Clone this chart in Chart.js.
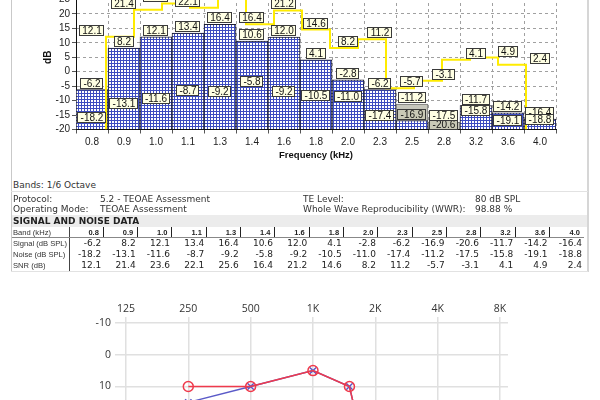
<!DOCTYPE html>
<html>
<head>
<meta charset="utf-8">
<script src="https://cdn.jsdelivr.net/npm/chart.js@4.4.1/dist/chart.umd.min.js"></script>
<style>
html, body { margin: 0; padding: 0; width: 600px; height: 400px; overflow: hidden; background: #fff; }
canvas { position: absolute; left: 0; }
#oae { top: -39px; }
#aud { top: 290px; }
.vl { position: absolute; top: 0; height: 272px; width: 1px; background: #c9c9c9; }
.hl { position: absolute; left: 11px; width: 577px; height: 1px; background: #e2e2e2; }
.txt { position: absolute; font: 9px "DejaVu Sans", Verdana, sans-serif; color: #333; line-height: 12px; white-space: nowrap; }
#band { position: absolute; left: 12px; top: 215px; width: 575px; height: 12px; background: #ececec; }
#snTable { position: absolute; left: 12px; top: 227px; width: 572px; border-collapse: collapse; table-layout: fixed; }
#snTable td { padding: 0 2px 0 0; text-align: right; white-space: nowrap; overflow: hidden;
  font: 9px "DejaVu Sans", Verdana, sans-serif; color: #222; height: 11px; line-height: 11px; }
#snTable td.lab { text-align: left; font: 7.6px "Liberation Sans", Arial, sans-serif; color: #333;
  border-right: 1px solid #444; padding-left: 1px; }
#snTable tr.hd td { height: 10px; line-height: 10px; font: bold 7.5px "Liberation Sans", Arial, sans-serif;
  border-bottom: 1px solid #888; padding-right: 4px; }
#snTable tr.hd td.lab { font: 7.6px "Liberation Sans", Arial, sans-serif; padding-right: 0; }
#snTable tr.hd td.sep { border-right: 1px solid #222; }
</style>
</head>
<body>

<canvas id="oae" width="600" height="210"></canvas>

<div class="vl" style="left:11px"></div>
<div class="vl" style="left:587px;width:2px;background:#d6d6d6"></div>

<div class="txt" style="left:13px;top:179px">Bands: 1/6 Octave</div>
<div class="hl" style="top:191px"></div>
<div class="txt" style="left:13px;top:193px">Protocol:</div>
<div class="txt" style="left:100px;top:193px">5.2 - TEOAE Assessment</div>
<div class="txt" style="left:13px;top:203px">Operating Mode:</div>
<div class="txt" style="left:100px;top:203px">TEOAE Assessment</div>
<div class="txt" style="left:303px;top:193px">TE Level:</div>
<div class="txt" style="left:475px;top:193px">80 dB SPL</div>
<div class="txt" style="left:303px;top:203px">Whole Wave Reproducibility (WWR):</div>
<div class="txt" style="left:475px;top:203px">98.88 %</div>
<div id="band"></div>
<div class="txt" style="left:13px;top:215px;font-weight:bold;color:#222">SIGNAL AND NOISE DATA</div>
<table id="snTable"></table>
<div class="hl" style="top:271px"></div>

<canvas id="aud" width="600" height="456"></canvas>

<script>
// TEOAE bands (kHz) and levels
const bands = ['0.8', '0.9', '1.0', '1.1', '1.3', '1.4', '1.6', '1.8', '2.0', '2.3', '2.5', '2.8', '3.2', '3.6', '4.0'];
const signalDb = [-6.2, 8.2, 12.1, 13.4, 16.4, 10.6, 12.0, 4.1, -2.8, -6.2, -16.9, -20.6, -11.7, -14.2, -16.4];
const noiseDb = [-18.2, -13.1, -11.6, -8.7, -9.2, -5.8, -9.2, -10.5, -11.0, -17.4, -11.2, -17.5, -15.8, -19.1, -18.8];
const snrDb = [12.1, 21.4, 23.6, 22.1, 25.6, 16.4, 21.2, 14.6, 8.2, 11.2, -5.7, -3.1, 4.1, 4.9, 2.4];
const rowLabels = ['Band (kHz)', 'Signal (dB SPL)', 'Noise (dB SPL)', 'SNR (dB)'];

// audiogram
const audFreqs = [125, 250, 500, 1000, 2000, 4000, 8000];
const audFreqLabels = ['125', '250', '500', '1K', '2K', '4K', '8K'];
const rightFreq = [250, 500, 1000, 1500, 2000];
const rightDb = [10, 10, 5, 10, 45];
const leftFreq = [250, 500, 1000, 1500, 2000];
const leftDb = [15, 10, 5, 10, 45];

const DB_FLOOR = -20;

// tabel under grafen
function fillTable() {
  const t = document.getElementById('snTable');
  let html = '<colgroup><col style="width:57px">' + bands.map(() => '<col>').join('') + '</colgroup>';
  html += '<tr class="hd"><td class="lab">' + rowLabels[0] + '</td>' +
    bands.map((b, i) => '<td class="' + (i < bands.length - 1 ? 'sep' : '') + '">' + b + '</td>').join('') + '</tr>';
  [signalDb, noiseDb, snrDb].forEach((arr, r) => {
    html += '<tr><td class="lab">' + rowLabels[r + 1] + '</td>' +
      arr.map(v => '<td>' + v.toFixed(1) + '</td>').join('') + '</tr>';
  });
  t.innerHTML = html;
}
fillTable();

// blå ternet mønster til signal-søjlerne
function hatch() {
  const c = document.createElement('canvas');
  c.width = 3; c.height = 3;
  const g = c.getContext('2d');
  g.fillStyle = '#ffffff';
  g.fillRect(0, 0, 3, 3);
  g.fillStyle = '#3d4cc0';
  g.fillRect(0, 0, 3, 1);
  g.fillRect(0, 0, 1, 3);
  return g.createPattern(c, 'repeat');
}

// SNR som trappe-kurve langs kanten af hvert bånd
const snrStep = [{ x: -0.5, y: DB_FLOOR }];
snrDb.forEach((v, i) => { snrStep.push({ x: i - 0.5, y: v }); snrStep.push({ x: i + 0.5, y: v }); });
snrStep.push({ x: bands.length - 0.5, y: DB_FLOOR });

const boxLabels = {
  id: 'boxLabels',
  afterDatasetsDraw(chart) {
    const { ctx, scales: { x, y } } = chart;
    ctx.save();
    ctx.font = '10px "Liberation Sans", Arial, sans-serif';
    ctx.textAlign = 'center';
    ctx.textBaseline = 'middle';
    const put = (i, v, fill) => {
      const txt = v.toFixed(1);
      const w = Math.round(ctx.measureText(txt).width) + 6, h = 11;
      const cx = Math.round(x.getPixelForValue(i));
      const bottom = Math.round(y.getPixelForValue(v)) - 1;
      const left = cx - Math.round(w / 2);
      ctx.fillStyle = fill;
      ctx.fillRect(left, bottom - h, w, h);
      ctx.strokeStyle = '#3a3a3a';
      ctx.lineWidth = 1;
      ctx.strokeRect(left + 0.5, bottom - h + 0.5, w - 1, h - 1);
      ctx.fillStyle = '#111';
      ctx.fillText(txt, cx, bottom - h / 2 + 0.5);
    };
    snrDb.forEach((v, i) => put(i, v, '#ffffe3'));
    signalDb.forEach((v, i) => put(i, v, v < noiseDb[i] ? '#c9c9b6' : '#ffffe3'));
    noiseDb.forEach((v, i) => put(i, v, '#ffffe3'));
    ctx.restore();
  }
};

new Chart(document.getElementById('oae'), {
  type: 'bar',
  data: {
    labels: bands,
    datasets: [
      {
        type: 'line',
        label: 'SNR',
        data: snrStep,
        xAxisID: 'xs',
        borderColor: '#ffec00',
        borderWidth: 2,
        pointRadius: 0,
        tension: 0,
        fill: false,
        order: 1
      },
      {
        label: 'Signal',
        data: signalDb,
        base: DB_FLOOR,
        grouped: false,
        backgroundColor: hatch(),
        borderColor: '#1e1e2e',
        borderWidth: 1,
        barPercentage: 1,
        categoryPercentage: 1,
        order: 2
      },
      {
        label: 'Noise',
        data: noiseDb,
        base: DB_FLOOR,
        grouped: false,
        backgroundColor: '#c6c6bc',
        borderColor: '#777',
        borderWidth: 1,
        barPercentage: 1,
        categoryPercentage: 1,
        order: 3
      }
    ]
  },
  options: {
    responsive: false,
    animation: false,
    layout: { padding: { top: 24, right: 44, left: 0, bottom: 0 } },
    plugins: { legend: { display: false }, tooltip: { enabled: false } },
    scales: {
      x: {
        afterFit(s) { s.height = 41.5; },
        ticks: { color: '#222', font: { family: '"Liberation Sans", Arial, sans-serif', size: 10 }, padding: 3, maxRotation: 0, autoSkip: false },
        grid: { color: '#a0a0a0', tickLength: 4, tickColor: '#555' },
        border: { color: '#111', width: 1, dash: [3, 3] },
        title: { display: true, text: 'Frequency (kHz)', color: '#111', padding: { top: 0, bottom: 10 },
          font: { family: '"Liberation Sans", Arial, sans-serif', size: 9.5, weight: 'bold' } }
      },
      xs: { type: 'linear', display: false, min: -0.5, max: bands.length - 0.5 },
      y: {
        min: DB_FLOOR,
        max: 30,
        afterFit(s) { s.width = 76; },
        ticks: { stepSize: 5, autoSkip: false, color: '#222', padding: 2, font: { family: '"Liberation Sans", Arial, sans-serif', size: 10 } },
        grid: { color: '#a0a0a0', tickLength: 4, tickColor: '#555' },
        border: { color: '#111', width: 1, dash: [3, 3] },
        title: { display: true, text: 'dB', color: '#111', padding: { top: 42, bottom: 0 },
          font: { family: '"Liberation Sans", Arial, sans-serif', size: 10, weight: 'bold' } }
      }
    }
  },
  plugins: [boxLabels]
});

const audFont = { family: '"Open Sans", "Noto Sans", sans-serif', size: 10.5 };

// første datasæt tegnes øverst, så højre øre (rød) ligger over venstre (blå)
new Chart(document.getElementById('aud'), {
  type: 'line',
  data: {
    datasets: [
      {
        label: 'Right',
        data: rightFreq.map((f, i) => ({ x: f, y: rightDb[i] })),
        borderColor: '#ef3a4c',
        backgroundColor: 'rgba(255,255,255,0)',
        borderWidth: 1.5,
        pointStyle: 'circle',
        pointRadius: 5,
        pointBorderWidth: 1.5,
        tension: 0
      },
      {
        label: 'Left',
        data: leftFreq.map((f, i) => ({ x: f, y: leftDb[i] })),
        borderColor: '#5a5ac8',
        backgroundColor: '#5a5ac8',
        borderWidth: 1.5,
        pointStyle: 'crossRot',
        pointRadius: 4.5,
        pointBorderWidth: 1.5,
        tension: 0
      }
    ]
  },
  options: {
    responsive: false,
    animation: false,
    layout: { padding: { top: 0, right: 92, left: 0, bottom: 10 } },
    plugins: { legend: { display: false }, tooltip: { enabled: false } },
    scales: {
      x: {
        type: 'logarithmic',
        position: 'top',
        min: 117,
        max: 8744,
        afterBuildTicks(s) { s.ticks = audFreqs.map(v => ({ value: v })); },
        afterFit(s) { s.height = 33; },
        ticks: { autoSkip: false, maxRotation: 0, color: '#333', font: audFont, padding: 2,
          callback: (v, i) => audFreqLabels[i] },
        grid: { color: '#e0e0e0', lineWidth: 1.5, tickLength: 6 },
        border: { display: false }
      },
      y: {
        reverse: true,
        min: -10,
        max: 120,
        afterFit(s) { s.width = 120; },
        ticks: { stepSize: 10, color: '#333', font: audFont, padding: 4 },
        grid: { color: '#e0e0e0', lineWidth: 1.5, tickLength: 5 },
        border: { display: false }
      }
    }
  }
});
</script>
</body>
</html>
